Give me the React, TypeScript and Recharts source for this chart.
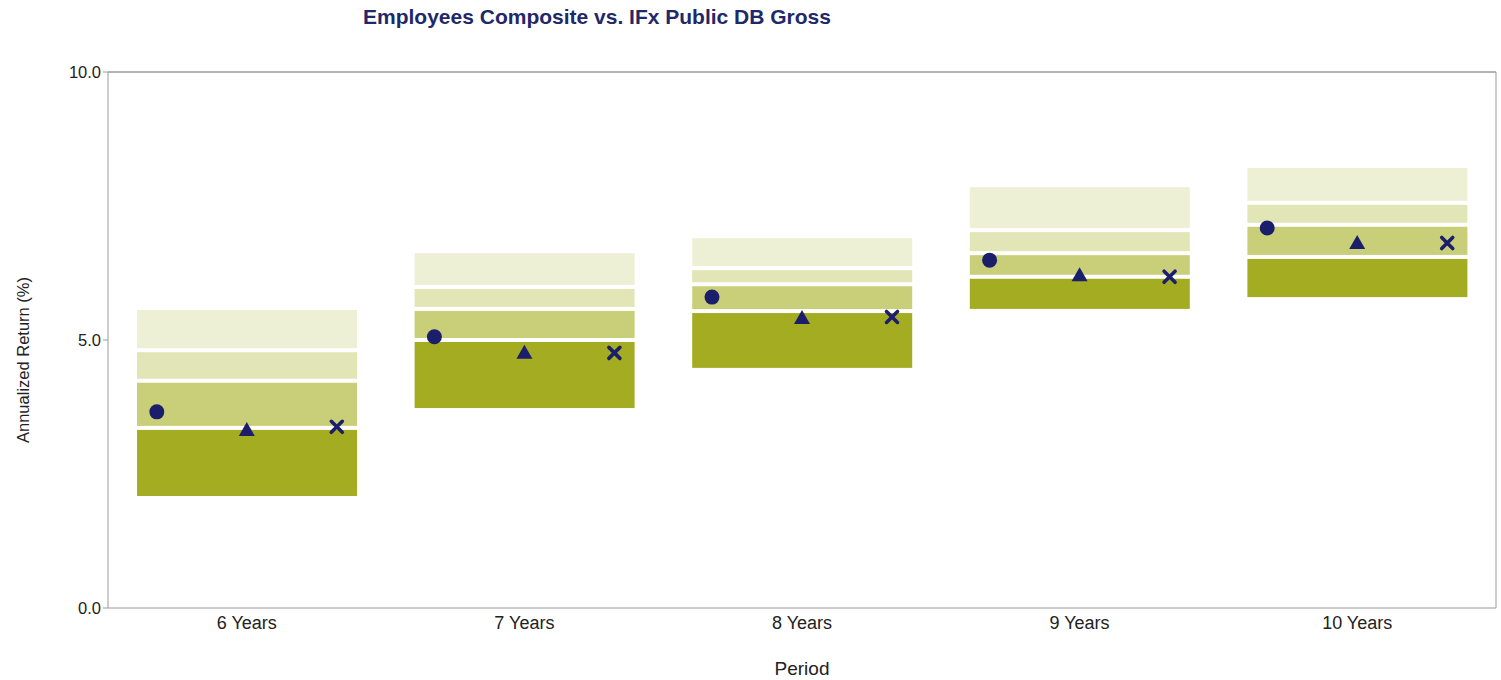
import React from 'react';
import { ComposedChart, Bar, Line, XAxis, YAxis, Label, ReferenceLine } from 'recharts';

// percentile ranges for the universe
const periods = ['6 Years', '7 Years', '8 Years', '9 Years', '10 Years'];
const p5 = [5.56, 6.62, 6.9, 7.85, 8.21];
const p25 = [4.81, 5.99, 6.34, 7.05, 7.56];
const p50 = [4.24, 5.58, 6.04, 6.62, 7.15];
const p75 = [3.36, 5.0, 5.54, 6.18, 6.55];
const p95 = [2.09, 3.73, 4.48, 5.58, 5.8];

// marker series
const composite = [3.66, 5.06, 5.8, 6.49, 7.09];
const triangleSeries = [3.32, 4.76, 5.41, 6.21, 6.81];
const crossSeries = [3.38, 4.76, 5.43, 6.18, 6.81];

const yTicks = [0, 5, 10];

const NAVY = '#1b1f6b';
const AXIS = '#9a9a9a';
const FONT = '"Liberation Sans", Arial, sans-serif';

const data = periods.map((period, i) => ({
  period,
  base: p95[i],
  band95: p75[i] - p95[i],
  band75: p50[i] - p75[i],
  band50: p25[i] - p50[i],
  band25: p5[i] - p25[i],
  composite: composite[i],
  tri: triangleSeries[i],
  cross: crossSeries[i],
}));

// bar segment with a white gap along its top/bottom edge
const segment = (fill: string, trimTop: number, trimBottom: number) => (props: any) => {
  const { x, y, width, height } = props;
  if (!height || height <= 0) return <g />;
  return <rect x={x} y={y + trimTop} width={width} height={Math.max(0, height - trimTop - trimBottom)} fill={fill} />;
};

const circleDot = (props: any) => {
  const { cx, cy, index } = props;
  if (cx == null || cy == null) return <g key={`c${index}`} />;
  return <circle key={`c${index}`} cx={cx - 90} cy={cy} r={7.5} fill={NAVY} />;
};

const triangleDot = (props: any) => {
  const { cx, cy, index } = props;
  if (cx == null || cy == null) return <g key={`t${index}`} />;
  const x = cx;
  return (
    <path
      key={`t${index}`}
      d={`M${x},${cy - 8} L${x + 8},${cy + 6} L${x - 8},${cy + 6} Z`}
      fill={NAVY}
    />
  );
};

const crossDot = (props: any) => {
  const { cx, cy, index } = props;
  if (cx == null || cy == null) return <g key={`x${index}`} />;
  const x = cx + 90;
  const s = 5.5;
  return (
    <path
      key={`x${index}`}
      d={`M${x - s},${cy - s} L${x + s},${cy + s} M${x + s},${cy - s} L${x - s},${cy + s}`}
      stroke={NAVY}
      strokeWidth={3.6}
      strokeLinecap="round"
      fill="none"
    />
  );
};

export default function App() {
  return (
    <div style={{ position: 'absolute', left: 0, top: 0, width: 1501, height: 680, background: '#fff', fontFamily: FONT }}>
      <div
        style={{
          position: 'absolute',
          left: 363,
          top: 5,
          fontSize: 21,
          fontWeight: 'bold',
          color: '#1f2868',
          whiteSpace: 'nowrap',
        }}
      >
        Employees Composite vs. IFx Public DB Gross
      </div>
      <ComposedChart width={1501} height={680} data={data} margin={{ top: 71, right: 4, bottom: 0, left: 0 }}>
        <XAxis
          dataKey="period"
          height={72}
          tickLine={false}
          tickSize={0}
          tickMargin={8}
          stroke={AXIS}
          tick={{ fill: '#222', fontSize: 18, fontFamily: FONT }}
        >
          <Label value="Period" position="insideBottom" offset={5} style={{ fill: '#222', fontSize: 19, fontFamily: FONT }} />
        </XAxis>
        <XAxis xAxisId="top" orientation="top" dataKey="period" tick={false} tickLine={false} height={1} stroke={AXIS} />
        <YAxis
          domain={[0, 10]}
          ticks={yTicks}
          width={108}
          tickSize={5}
          tickMargin={2}
          stroke={AXIS}
          tickFormatter={(v: number) => v.toFixed(1)}
          tick={{ fill: '#222', fontSize: 16.5, fontFamily: FONT }}
        >
          <Label
            content={() => (
              <text
                x={23}
                y={360}
                transform="rotate(-90, 23, 360)"
                textAnchor="middle"
                dominantBaseline="central"
                style={{ fill: '#222', fontSize: 16.5, fontFamily: FONT }}
              >
                Annualized Return (%)
              </text>
            )}
          />
        </YAxis>
        <YAxis yAxisId="right" orientation="right" domain={[0, 10]} tick={false} tickLine={false} width={1} stroke={AXIS} />

        <ReferenceLine y={10} stroke={AXIS} />

        <Bar dataKey="base" stackId="u" fill="transparent" barSize={220} isAnimationActive={false} />
        <Bar dataKey="band95" stackId="u" barSize={220} shape={segment('#a4ac22', 2, 0)} isAnimationActive={false} />
        <Bar dataKey="band75" stackId="u" barSize={220} shape={segment('#c9cf78', 2, 2)} isAnimationActive={false} />
        <Bar dataKey="band50" stackId="u" barSize={220} shape={segment('#e2e6b6', 2, 2)} isAnimationActive={false} />
        <Bar dataKey="band25" stackId="u" barSize={220} shape={segment('#eef0d5', 0, 2)} isAnimationActive={false} />

        <Line dataKey="composite" stroke="none" dot={circleDot} activeDot={false} isAnimationActive={false} legendType="none" />
        <Line dataKey="tri" stroke="none" dot={triangleDot} activeDot={false} isAnimationActive={false} legendType="none" />
        <Line dataKey="cross" stroke="none" dot={crossDot} activeDot={false} isAnimationActive={false} legendType="none" />
        {/* invisible series so the frame axes (top / right) get drawn */}
        <Line
          xAxisId="top"
          yAxisId="right"
          dataKey="base"
          stroke="none"
          dot={false}
          activeDot={false}
          isAnimationActive={false}
          legendType="none"
        />
      </ComposedChart>
    </div>
  );
}
